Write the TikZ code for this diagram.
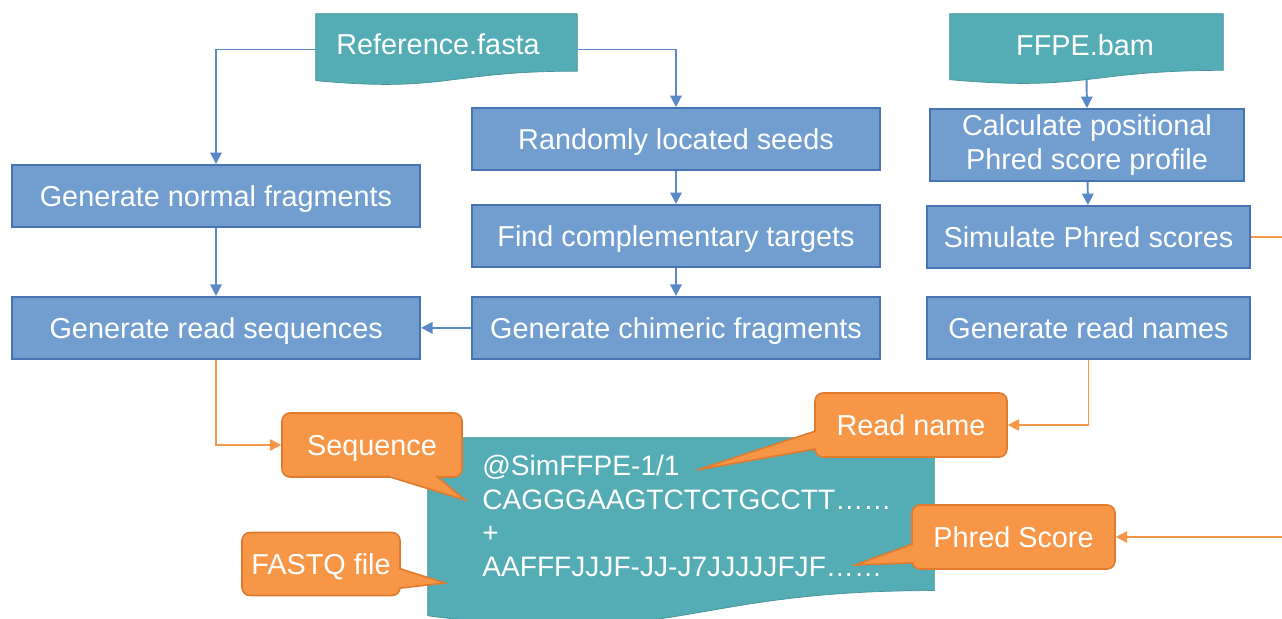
\documentclass[tikz,border=0pt]{standalone}
\usepackage{fontspec}
\setmainfont{Liberation Sans}
\usetikzlibrary{positioning,calc,arrows.meta}

\definecolor{stepfill}{HTML}{719ECF}
\definecolor{stepedge}{HTML}{4673B2}
\definecolor{linkblue}{HTML}{5A89C8}
\definecolor{filegreen}{HTML}{54ACB4}
\definecolor{noteorange}{HTML}{F79646}
\definecolor{noteedge}{HTML}{E07A2C}

% file symbol: straight top, wavy bottom, taken from the corners of an empty node
\newcommand{\filewave}[1]{%
  \filldraw[fill=filegreen, draw=filegreen!85!black, line width=0.4pt]
    (#1.north west) -- (#1.north east)
    -- ($(#1.north east)!0.802!(#1.south east)$)
    .. controls ($(#1.north)!0.802!(#1.south)$) and ($(#1.north)!1.107!(#1.south)$)
    .. ($(#1.north west)!0.934!(#1.south west)$) -- cycle;}

% pointer of a note: two base points just inside the note, then the tip
\newcommand{\notetip}[3]{%
  \fill[noteorange] (#1) -- (#2) -- (#3) -- cycle;
  \draw[noteedge, line width=0.9pt] (#1) -- (#3) -- (#2);}

\begin{document}
\begin{tikzpicture}[x=0.02cm, y=-0.02cm, >={Triangle[length=6.5pt,width=6.5pt]},
    proc node/.style={rectangle, draw=stepedge, line width=1.1pt, fill=stepfill, text=white,
      font=\fontsize{16.4}{19.3}\selectfont, minimum width=8.16cm, minimum height=1.24cm,
      inner sep=0pt, align=center, text height=11.7pt, text depth=0pt},
    file node/.style={rectangle, inner sep=0pt},
    file text/.style={text=white, inner sep=0pt, font=\fontsize{16.4}{19.3}\selectfont},
    note node/.style={rectangle, rounded corners=4.5pt, draw=noteedge, line width=0.9pt,
      fill=noteorange, text=white, font=\fontsize{16.4}{19.3}\selectfont,
      minimum height=1.28cm, inner sep=0pt, text height=11.7pt, text depth=0pt},
    blue link/.style={->, draw=linkblue, line width=1.1pt},
    orange link/.style={->, draw=noteorange, line width=1.1pt}]

  \useasboundingbox (0,0) rectangle (1282,619);

  % input files
  \node[file node, minimum width=5.22cm, minimum height=1.42cm] (ref) at (446.5,49.5) {};
  \filewave{ref}
  \node[file text] (reftext) at (438,44) {Reference.fasta};

  \node[file node, minimum width=5.46cm, minimum height=1.4cm] (ffpe) at (1086.5,49) {};
  \filewave{ffpe}
  \node[file text] (ffpetext) at (1085,45) {FFPE.bam};

  % fragment branch
  \node[proc node] (rand) at (676,139) {Randomly located seeds};
  \node[proc node] (find) [below=0.66cm of rand] {Find complementary targets};
  \node[proc node] (chim) [below=0.56cm of find] {Generate chimeric fragments};
  \node[proc node] (normal) at (216,196) {Generate normal fragments};
  \node[proc node] (readseq) [left=1.0cm of chim] {Generate read sequences};

  % quality branch
  \node[proc node, minimum width=6.28cm, minimum height=1.44cm, text height=, text depth=]
    (calc) at (1087,145) {Calculate positional\\Phred score profile};
  \node[proc node, minimum width=6.46cm] (sim) at (1088.5,237) {Simulate Phred scores};
  \node[proc node, minimum width=6.46cm] (names) [below=0.54cm of sim] {Generate read names};

  % output record
  \node[file node, minimum width=10.12cm, minimum height=3.8cm] (fastq) at (681,533) {};
  \filewave{fastq}
  \node[file text, anchor=north west, align=left, font=\fontsize{16}{19.1}\selectfont]
    (fastqtext) at (482,455)
    {@SimFFPE-1/1\\CAGGGAAGTCTCTGCCTT……\\+\\AAFFFJJJF-JJ-J7JJJJJFJF……};

  % notes
  \node[note node, minimum width=3.6cm] (seqnote) at (372,445) {Sequence};
  \node[note node, minimum width=3.16cm, minimum height=1.26cm] (filenote) at (321,564) {FASTQ file};
  \node[note node, minimum width=3.84cm] (namenote) at (911,425) {Read name};
  \node[note node, minimum width=4.06cm] (phrednote) at (1013.5,537) {Phred Score};

  \coordinate (seqend) at (465,500);
  \coordinate (fileend) at (445,583);
  \coordinate (nameend) at (697,470);
  \coordinate (phredend) at (855,565);

  \notetip{$(seqnote.south west)+(105,-2)$}{$(seqnote.south west)+(155,-2)$}{seqend}
  \notetip{$(filenote.south east)+(-2,-28)$}{$(filenote.south east)+(-2,-8)$}{fileend}
  \notetip{$(namenote.south west)+(2,-27)$}{$(namenote.south west)+(2,-9)$}{nameend}
  \notetip{$(phrednote.south west)+(2,-26)$}{$(phrednote.south west)+(2,-7)$}{phredend}

  % workflow
  \draw[blue link] (ref.west) -| (normal.north);
  \draw[blue link] (ref.east) -| (rand.north);
  \draw[blue link] (rand) -- (find);
  \draw[blue link] (find) -- (chim);
  \draw[blue link] (normal.south) -- (normal.south |- readseq.north);
  \draw[blue link] (chim) -- (readseq);
  \draw[blue link] ($(ffpe.north)!0.93!(ffpe.south)$) -- (calc.north);
  \draw[blue link] (calc) -- (sim);

  \draw[orange link] (readseq.south) |- (seqnote.west);
  \draw[orange link] (names.south) |- (namenote.east);
  \draw[orange link] (sim.east) -- ++(80,0) |- (phrednote.east);
\end{tikzpicture}
\end{document}
